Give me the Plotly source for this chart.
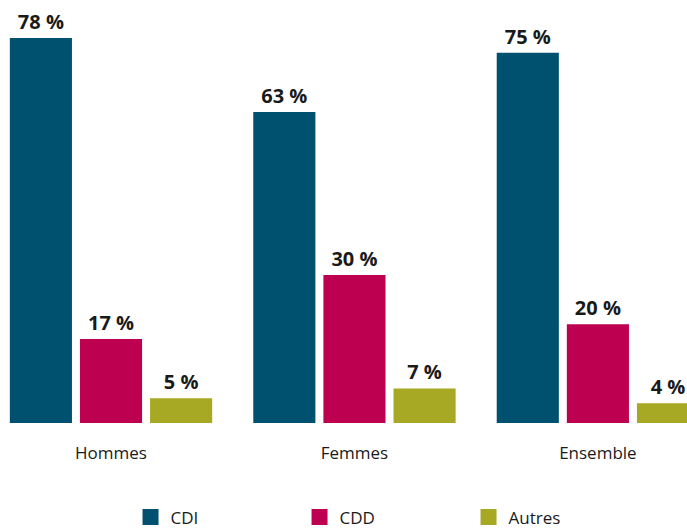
import plotly.graph_objects as go

categories = ["Hommes", "Femmes", "Ensemble"]
series_names = ["CDI", "CDD", "Autres"]
cdi = [78, 63, 75]
cdd = [17, 30, 20]
autres = [5, 7, 4]
colors = ["#00516f", "#bd004f", "#a7a823"]
values = [cdi, cdd, autres]

FONT = "Open Sans"
fig = go.Figure()
for name, vals, col in zip(series_names, values, colors):
    fig.add_trace(go.Bar(
        x=categories, y=vals, name=name, marker_color=col, marker_line_width=0,
        text=[f"<b>{v}\u00a0%</b>" for v in vals], textposition="outside",
        textfont=dict(family=FONT, size=20, color="#1a1a1a"),
        cliponaxis=False, showlegend=False,
    ))
    fig.add_trace(go.Scatter(
        x=[None], y=[None], mode="markers", name=name,
        marker=dict(symbol="square", size=18, color=col), showlegend=True,
    ))

fig.update_layout(
    width=687, height=528,
    margin=dict(l=0, r=0, t=0, b=105),
    paper_bgcolor="white", plot_bgcolor="white",
    barmode="group", bargap=0.136, bargroupgap=0.114,
    font=dict(family=FONT, size=17, color="#1a1a1a"),
    showlegend=True,
    legend=dict(orientation="h", yref="container", y=0.02, yanchor="middle",
                xref="paper", x=0.19, xanchor="left",
                entrywidth=124, font=dict(family=FONT, size=17, color="#1a1a1a")),
    xaxis=dict(type="category", range=[-0.456, 2.366], showgrid=False,
               showline=False, ticks="", ticklabelstandoff=18, tickfont=dict(size=17)),
    yaxis=dict(range=[0, 85.7], visible=False, showgrid=False),
)
fig.write_html(
    "out.html",
    config={"displayModeBar": False},
    post_script="document.body.style.margin='0';document.documentElement.style.overflow='hidden';document.body.style.overflow='hidden';",
)
